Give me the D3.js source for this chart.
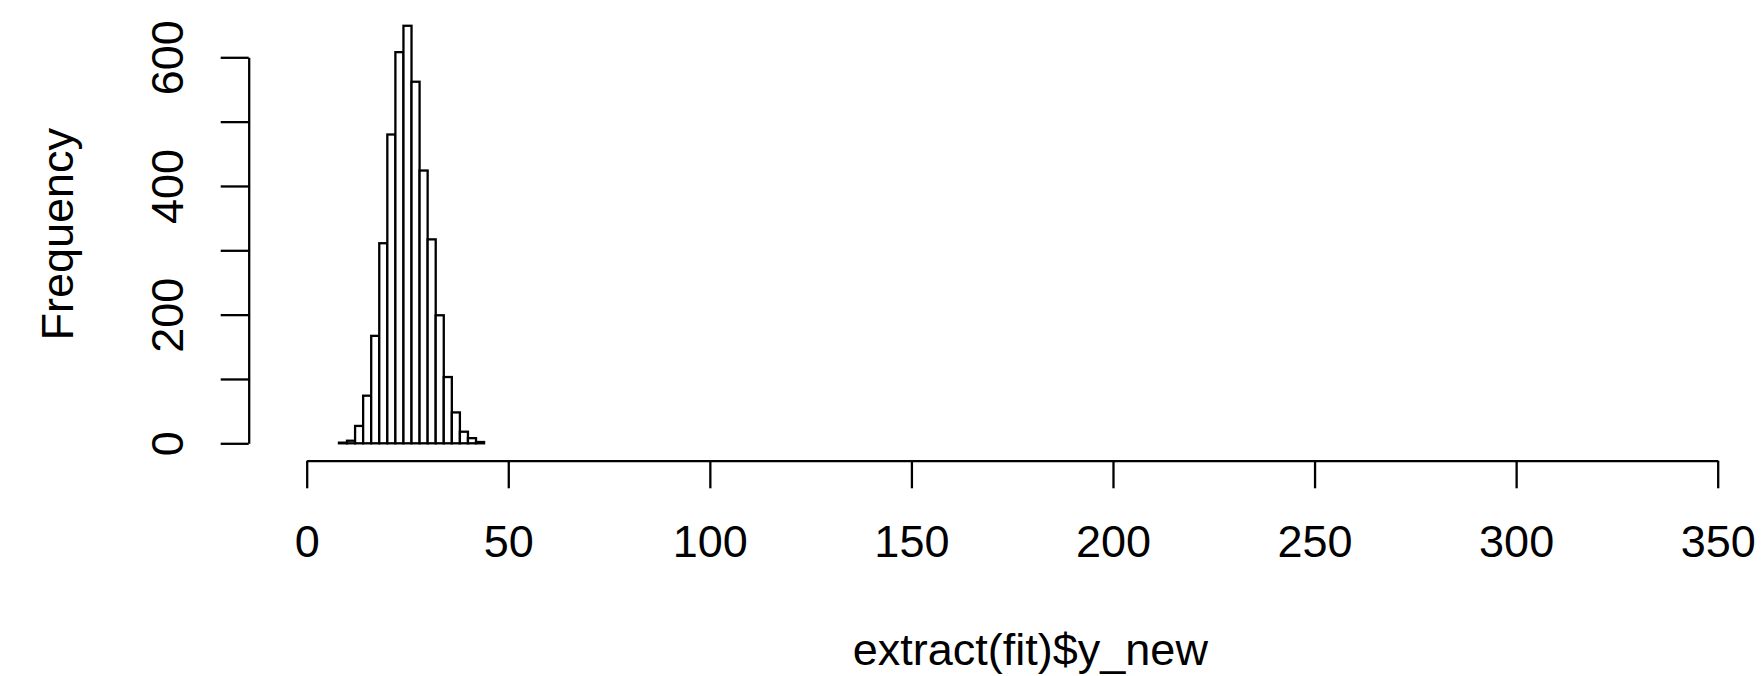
<!DOCTYPE html>
<html>
<head>
<meta charset="utf-8">
<script src="https://cdn.jsdelivr.net/npm/d3@7"></script>
<style>
  html, body { margin: 0; padding: 0; background: #fff; }
  svg { display: block; }
  text { font-family: "Liberation Sans", Arial, Helvetica, sans-serif; fill: #000; }
</style>
</head>
<body>
<div id="chart"></div>
<script>
// histogram data: bins of width 2 starting at 8
const binStart = 8;
const binWidth = 2;
const counts = [1, 4, 27, 74, 167, 311, 480, 608, 649, 562, 424, 317, 199, 103, 48, 18, 8, 2];
const xTicks = [0, 50, 100, 150, 200, 250, 300, 350];
const yTicks = [0, 100, 200, 300, 400, 500, 600];
const yLabels = [0, 200, 400, 600];
const xLimits = [8, 351];   // plot region used to centre the x label
const yLimits = [-26, 676];

const W = 1764, H = 676;
const fontSize = 45;

const svg = d3.select("#chart")
    .append("svg")
    .attr("width", W)
    .attr("height", H);

const x = d3.scaleLinear().domain([0, 350]).range([306.7, 1717.7]);
const y = d3.scaleLinear().domain([0, 600]).range([443.3, 57.3]);

const bins = counts.map((c, i) => ({
  x0: binStart + i * binWidth,
  x1: binStart + (i + 1) * binWidth,
  n: c
}));

// bars
svg.append("g")
  .selectAll("rect")
  .data(bins)
  .join("rect")
    .attr("x", d => x(d.x0))
    .attr("y", d => y(d.n))
    .attr("width", d => x(d.x1) - x(d.x0))
    .attr("height", d => y(0) - y(d.n))
    .attr("fill", "#fff")
    .attr("stroke", "#000")
    .attr("stroke-width", 2.3);

// x axis
const xAxis = svg.append("g")
    .attr("transform", `translate(0, 460.7)`)
    .call(d3.axisBottom(x).tickValues(xTicks).tickSize(27.6).tickSizeOuter(0));
xAxis.selectAll("path, line").attr("stroke", "#000").attr("stroke-width", 2.3);
xAxis.selectAll("text")
    .attr("y", 96.3)
    .attr("dy", 0)
    .style("font-size", fontSize + "px")
    .style("font-family", "'Liberation Sans', Arial, Helvetica, sans-serif")
    .attr("fill", "#000");

// y axis
const yAxis = svg.append("g")
    .attr("transform", `translate(248.7, 0)`)
    .call(d3.axisLeft(y).tickValues(yTicks).tickSize(28).tickSizeOuter(0)
      .tickFormat(d => yLabels.includes(d) ? d : ""));
yAxis.selectAll("path, line").attr("stroke", "#000").attr("stroke-width", 2.3);
yAxis.selectAll("text")
    .attr("transform", "rotate(-90)")
    .attr("x", 0)
    .attr("y", -65.4)
    .attr("dy", 0)
    .attr("text-anchor", "middle")
    .style("font-size", fontSize + "px")
    .style("font-family", "'Liberation Sans', Arial, Helvetica, sans-serif")
    .attr("fill", "#000");

// axis titles
svg.append("text")
    .attr("x", x((xLimits[0] + xLimits[1]) / 2))
    .attr("y", 665)
    .attr("text-anchor", "middle")
    .style("font-size", fontSize + "px")
    .text("extract(fit)$y_new");

const ymid = y((yLimits[0] + yLimits[1]) / 2);
svg.append("text")
    .attr("transform", `translate(72.7, ${ymid}) rotate(-90)`)
    .attr("text-anchor", "middle")
    .style("font-size", fontSize + "px")
    .text("Frequency");
</script>
</body>
</html>
